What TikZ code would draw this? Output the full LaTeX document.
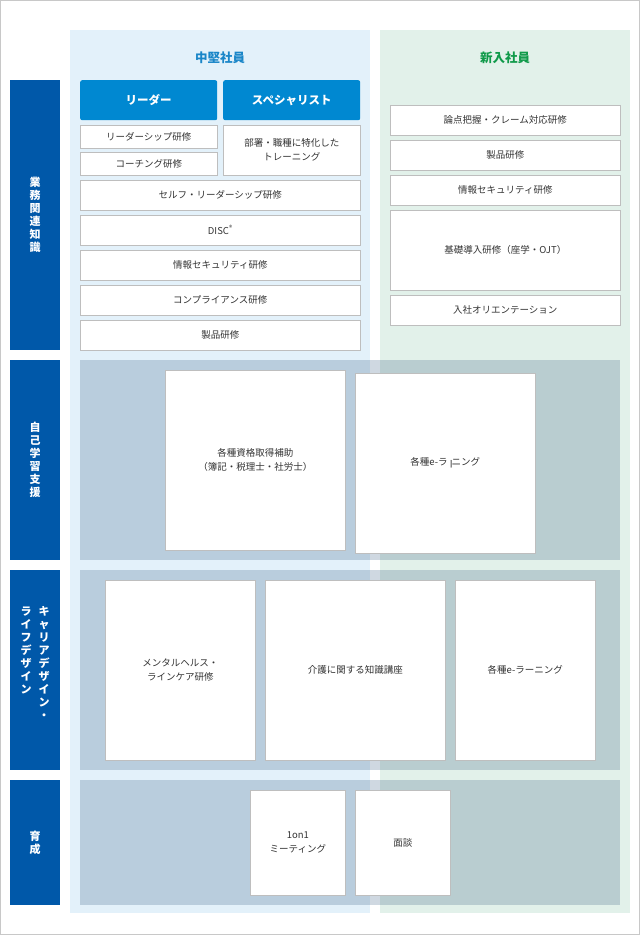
\documentclass[tikz,border=0pt]{standalone}
\usepackage{fontspec}
\setmainfont{Noto Sans CJK JP}
\usepackage{graphicx}
\definecolor{bgblue}{HTML}{E3F1FA}
\definecolor{bggreen}{HTML}{E2F1EA}
\definecolor{lab}{HTML}{0058A9}
\definecolor{btn}{HTML}{0088D1}
\definecolor{hblue}{HTML}{1A86C8}
\definecolor{hgreen}{HTML}{109A4A}
\definecolor{txt}{HTML}{333333}
\newcommand{\vb}{\rotatebox[origin=c]{-90}{ー}}
\begin{document}
\begin{tikzpicture}[x=1pt,y=-1pt,
  wbox/.style={draw={rgb,255:red,190;green,190;blue,190},line width=0.6pt,fill=white,text=txt,font=\fontsize{9.5}{14}\selectfont,align=center,inner sep=0},
  btnbox/.style={fill=btn,text=white,font=\fontsize{11.5}{14}\selectfont\bfseries,rounded corners=2pt},
  labbox/.style={fill=lab,text=white,font=\fontsize{11}{13}\selectfont\bfseries,align=center},
  band/.style={fill={rgb,255:red,40;green,80;blue,120},fill opacity=0.22,draw=none}]
\useasboundingbox (0,0) rectangle (640,935);
\draw[draw={rgb,255:red,200;green,200;blue,200},fill=white] (0.5,0.5) rectangle (639.5,934.5);
\fill[bgblue] (70,30) rectangle (370,913);
\fill[bggreen] (380,30) rectangle (630,913);
\node[text=hblue,font=\fontsize{12.5}{14}\selectfont\bfseries] (h1) at (220,58) {中堅社員};
\node[text=hgreen,font=\fontsize{12.5}{14}\selectfont\bfseries] (h2) at (505,58) {新入社員};
% left labels
\node[labbox,minimum width=50,minimum height=270,anchor=north west] (l1) at (10,80) {業\\務\\関\\連\\知\\識};
\node[labbox,minimum width=50,minimum height=200,anchor=north west] (l2) at (10,360) {自\\己\\学\\習\\支\\援};
\node[labbox,minimum width=50,minimum height=200,anchor=north west] (l3) at (10,570) {};
\node[labbox,anchor=north] (l3a) at (44,603) {キ\\ャ\\リ\\ア\\デ\\ザ\\イ\\ン\\・};
\node[labbox,anchor=north] (l3b) at (26,603) {ラ\\イ\\フ\\デ\\ザ\\イ\\ン};
\node[labbox,minimum width=50,minimum height=125,anchor=north west] (l4) at (10,780) {育\\成};
% bands
\fill[band] (80,360) rectangle (620,560);
\fill[band] (80,570) rectangle (620,770);
\fill[band] (80,780) rectangle (620,905);
% row 1 left
\node[btnbox,minimum width=137,minimum height=40,anchor=north west] (b1) at (80,80) {リーダー};
\node[btnbox,minimum width=137,minimum height=40,anchor=north west] (b2) at (223,80) {スペシャリスト};
\node[wbox,minimum width=137,minimum height=23,anchor=north west] (a1) at (80,125) {リーダーシップ研修};
\node[wbox,minimum width=137,minimum height=23,anchor=north west] (a2) at (80,152) {コーチング研修};
\node[wbox,minimum width=137,minimum height=50,anchor=north west] (a3) at (223,125) {部署・職種に特化した\\トレーニング};
\foreach \y/\t/\n in {180/セルフ・リーダーシップ研修/c1,215/DISC\textsuperscript{®}/c2,250/情報セキュリティ研修/c3,285/コンプライアンス研修/c4,320/製品研修/c5}
  \node[wbox,minimum width=280,minimum height=30,anchor=north west] (\n) at (80,\y) {\t};
% row 1 right
\foreach \y/\h/\t/\n in {105/30/論点把握・クレーム対応研修/d1,140/30/製品研修/d2,175/30/情報セキュリティ研修/d3,210/80/基礎導入研修（座学・OJT）/d4,295/30/入社オリエンテーション/d5}
  \node[wbox,minimum width=230,minimum height=\h,anchor=north west] (\n) at (390,\y) {\t};
% row 2
\node[wbox,minimum width=180,minimum height=180,anchor=north west] (e1) at (165,370) {各種資格取得補助\\（簿記・税理士・社労士）};
\node[wbox,minimum width=180,minimum height=180,anchor=north west] (e2) at (355,373) {各種e-ラ\vb ニング};
% row 3
\node[wbox,minimum width=150,minimum height=180,anchor=north west] (f1) at (105,580) {メンタルヘルス・\\ラインケア研修};
\node[wbox,minimum width=180,minimum height=180,anchor=north west] (f2) at (265,580) {介護に関する知識講座};
\node[wbox,minimum width=140,minimum height=180,anchor=north west] (f3) at (455,580) {各種e-ラーニング};
% row 4
\node[wbox,minimum width=95,minimum height=105,anchor=north west] (g1) at (250,790) {1on1\\ミーティング};
\node[wbox,minimum width=95,minimum height=105,anchor=north west] (g2) at (355,790) {面談};
\end{tikzpicture}
\end{document}
